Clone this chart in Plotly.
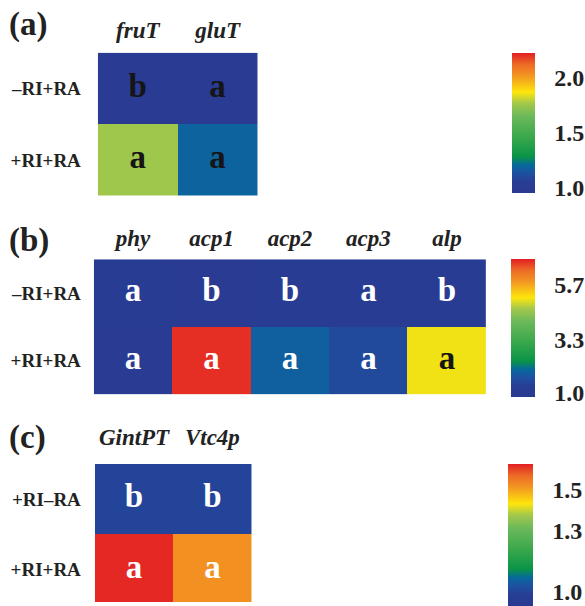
import plotly.graph_objects as go

W, H = 585, 606

# ---- data ----
rows_a = ["\u2013RI+RA", "+RI+RA"]
cols_a = ["fruT", "gluT"]
z_a = [[1.00, 1.00], [1.76, 1.19]]
letters_a = [["b", "a"], ["a", "a"]]
letter_colors_a = [["#151515", "#151515"], ["#151515", "#151515"]]
ticks_a = [1.0, 1.5, 2.0]
ticktext_a = ["1.0", "1.5", "2.0"]

rows_b = ["\u2013RI+RA", "+RI+RA"]
cols_b = ["phy", "acp1", "acp2", "acp3", "alp"]
z_b = [[1.05, 1.00, 1.08, 1.12, 1.07],
       [1.03, 6.70, 1.85, 1.50, 5.05]]
letters_b = [["a", "b", "b", "a", "b"], ["a", "a", "a", "a", "a"]]
letter_colors_b = [["white"] * 5, ["white", "white", "white", "white", "#151515"]]
ticks_b = [1.0, 3.3, 5.7]
ticktext_b = ["1.0", "3.3", "5.7"]

rows_c = ["+RI\u2013RA", "+RI+RA"]
cols_c = ["GintPT", "Vtc4p"]
z_c = [[1.00, 1.00], [1.62, 1.52]]
letters_c = [["b", "b"], ["a", "a"]]
letter_colors_c = [["white", "white"], ["white", "white"]]
ticks_c = [1.0, 1.3, 1.5]
ticktext_c = ["1.0", "1.3", "1.5"]

panel_labels = ["(a)", "(b)", "(c)"]

# ---- style ----
cscale = [
    [0.00, "#2b3990"],
    [0.08, "#273e95"],
    [0.15, "#1b54a2"],
    [0.20, "#06699b"],
    [0.26, "#0a9447"],
    [0.40, "#3aa84c"],
    [0.55, "#6cb95a"],
    [0.64, "#a3c84b"],
    [0.72, "#fde60c"],
    [0.84, "#f39422"],
    [0.92, "#ec6a26"],
    [1.00, "#e31e24"],
]
SERIF = "Liberation Serif"

panels = [
    dict(rows=rows_a, cols=cols_a, z=z_a, letters=letters_a, lc=letter_colors_a,
         ticks=ticks_a, tt=ticktext_a, zmin=0.955, zmax=2.227,
         px=(98, 258), py=(53, 197), yr=[1.5, -0.5],
         cb=dict(x=513, top=53, len=140, th=23), rstand=16, cstand=9, label_y=25),
    dict(rows=rows_b, cols=cols_b, z=z_b, letters=letters_b, lc=letter_colors_b,
         ticks=ticks_b, tt=ticktext_b, zmin=0.8, zmax=6.8,
         px=(94, 487), py=(261, 397), yr=[1.5, -0.5],
         cb=dict(x=512, top=261, len=138, th=24), rstand=12, cstand=8, label_y=242),
    dict(rows=rows_c, cols=cols_c, z=z_c, letters=letters_c, lc=letter_colors_c,
         ticks=ticks_c, tt=ticktext_c, zmin=0.93, zmax=1.627,
         px=(95, 252), py=(467, 606), yr=[1.5 - 3 / 71, -0.5],
         cb=dict(x=509, top=467, len=142, th=25), rstand=13, cstand=13, label_y=440),
]

fig = go.Figure()
layout = dict(
    width=W, height=H, margin=dict(l=0, r=0, t=0, b=0),
    paper_bgcolor="white", plot_bgcolor="white", showlegend=False,
    font=dict(family=SERIF, color="#222222"),
)
annotations = []

for i, p in enumerate(panels):
    n = "" if i == 0 else str(i + 1)
    xa, ya = "x" + n, "y" + n
    xs = list(range(len(p["cols"])))
    ys = list(range(len(p["rows"])))
    cb = p["cb"]
    fig.add_trace(go.Heatmap(
        z=p["z"], x=xs, y=ys, xaxis=xa, yaxis=ya,
        colorscale=cscale, zmin=p["zmin"], zmax=p["zmax"],
        xgap=0, ygap=0, hoverinfo="skip",
        colorbar=dict(
            x=cb["x"] / W, xanchor="left", xref="paper",
            y=1 - cb["top"] / H, yanchor="top", yref="paper",
            len=cb["len"], lenmode="pixels",
            thickness=cb["th"], thicknessmode="pixels",
            xpad=0, ypad=0, outlinewidth=0,
            tickvals=p["ticks"], ticktext=p["tt"],
            ticks="outside", ticklen=15, tickcolor="rgba(0,0,0,0)",
            tickfont=dict(family=SERIF, size=24, color="#222222", weight="bold"),
        ),
    ))
    tx, ty, tt, tc = [], [], [], []
    for r in ys:
        for c in xs:
            tx.append(c)
            ty.append(r)
            tt.append(p["letters"][r][c])
            tc.append(p["lc"][r][c])
    fig.add_trace(go.Scatter(
        x=tx, y=ty, text=tt, mode="text", xaxis=xa, yaxis=ya,
        textfont=dict(family=SERIF, size=33, color=tc, weight="bold"),
        hoverinfo="skip", cliponaxis=False,
    ))
    layout["xaxis" + n] = dict(
        domain=[p["px"][0] / W, p["px"][1] / W], anchor=ya, side="top",
        range=[-0.5, len(xs) - 0.5], tickvals=xs, ticktext=p["cols"],
        showgrid=False, zeroline=False, showline=False, ticks="",
        ticklabelstandoff=p["cstand"],
        tickfont=dict(family=SERIF, size=23, color="#222222", weight="bold", style="italic"),
        fixedrange=True,
    )
    layout["yaxis" + n] = dict(
        domain=[max(0, 1 - p["py"][1] / H), 1 - p["py"][0] / H], anchor=xa,
        range=p["yr"], tickvals=ys, ticktext=p["rows"],
        showgrid=False, zeroline=False, showline=False, ticks="",
        ticklabelstandoff=p["rstand"],
        tickfont=dict(family=SERIF, size=19, color="#222222", weight="bold"),
        fixedrange=True,
    )
    annotations.append(dict(
        text=panel_labels[i], xref="paper", yref="paper",
        x=7 / W, y=1 - p["label_y"] / H, xanchor="left", yanchor="middle",
        showarrow=False,
        font=dict(family=SERIF, size=33, color="#222222", weight="bold"),
    ))

layout["annotations"] = annotations
fig.update_layout(**layout)
fig.write_html("out.html")
